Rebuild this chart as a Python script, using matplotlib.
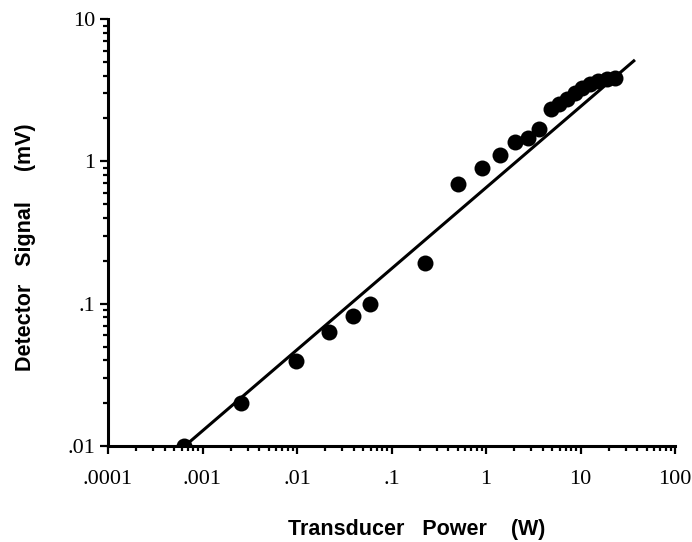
import matplotlib
matplotlib.use('Agg')
import matplotlib.pyplot as plt
from matplotlib.ticker import FixedLocator, FixedFormatter, LogLocator, NullFormatter

# data (W, mV)
power = [0.00063, 0.00255, 0.00975, 0.0218, 0.0394, 0.0592, 0.226, 0.51, 0.90,
         1.42, 2.03, 2.8, 3.66, 4.87, 5.92, 7.19, 8.75, 10.4, 12.6, 15.3, 19.1, 23.2]
signal = [0.01, 0.020, 0.0393, 0.063, 0.082, 0.0995, 0.192, 0.69, 0.894,
          1.10, 1.37, 1.45, 1.68, 2.34, 2.53, 2.75, 3.03, 3.28, 3.50, 3.67, 3.79, 3.86]

# fitted line end points
fit_power = [0.00065, 37.7]
fit_signal = [0.01, 5.16]

x_ticks = [0.0001, 0.001, 0.01, 0.1, 1, 10, 100]
x_ticklabels = ['.0001', '.001', '.01', '.1', '1', '10', '100']
y_ticks = [0.01, 0.1, 1, 10]
y_ticklabels = ['.01', '.1', '1', '10']

fig = plt.figure(figsize=(6.92, 5.42), dpi=100)
ax = fig.add_axes([108 / 692, 1 - 446 / 542, 567 / 692, 427 / 542])

ax.plot(fit_power, fit_signal, color='black', lw=2.2, solid_capstyle='butt', zorder=2)
ax.plot(power, signal, 'o', color='black', markersize=11.5, markeredgewidth=0, zorder=3)

ax.set_xscale('log')
ax.set_yscale('log')
ax.set_xlim(1e-4, 100)
ax.set_ylim(0.01, 10)

for side in ['top', 'right']:
    ax.spines[side].set_visible(False)
for side in ['left', 'bottom']:
    ax.spines[side].set_linewidth(2.2)

ax.xaxis.set_major_locator(FixedLocator(x_ticks))
ax.xaxis.set_major_formatter(FixedFormatter(x_ticklabels))
ax.yaxis.set_major_locator(FixedLocator(y_ticks))
ax.yaxis.set_major_formatter(FixedFormatter(y_ticklabels))
ax.xaxis.set_minor_locator(LogLocator(base=10, subs=range(2, 10), numticks=20))
ax.yaxis.set_minor_locator(LogLocator(base=10, subs=range(2, 10), numticks=20))
ax.xaxis.set_minor_formatter(NullFormatter())
ax.yaxis.set_minor_formatter(NullFormatter())

ax.tick_params(which='major', direction='out', length=6, width=1.6)
ax.tick_params(which='minor', direction='out', length=3.5, width=1.6)
ax.tick_params(axis='x', which='major', pad=11)
ax.tick_params(axis='y', which='major', pad=3)
for lbl in ax.get_xticklabels() + ax.get_yticklabels():
    lbl.set_fontfamily('Liberation Serif')
    lbl.set_fontsize(16)

ax.set_xlabel('Transducer   Power    (W)', fontfamily='Liberation Sans',
              fontweight='bold', fontsize=15.5)
ax.xaxis.set_label_coords(0.544, -0.171)
ax.set_ylabel('Detector   Signal     (mV)', fontfamily='Liberation Sans',
              fontweight='bold', fontsize=15.5)
ax.yaxis.set_label_coords(-0.127, 0.466)

fig.savefig('out.png', dpi=100)
